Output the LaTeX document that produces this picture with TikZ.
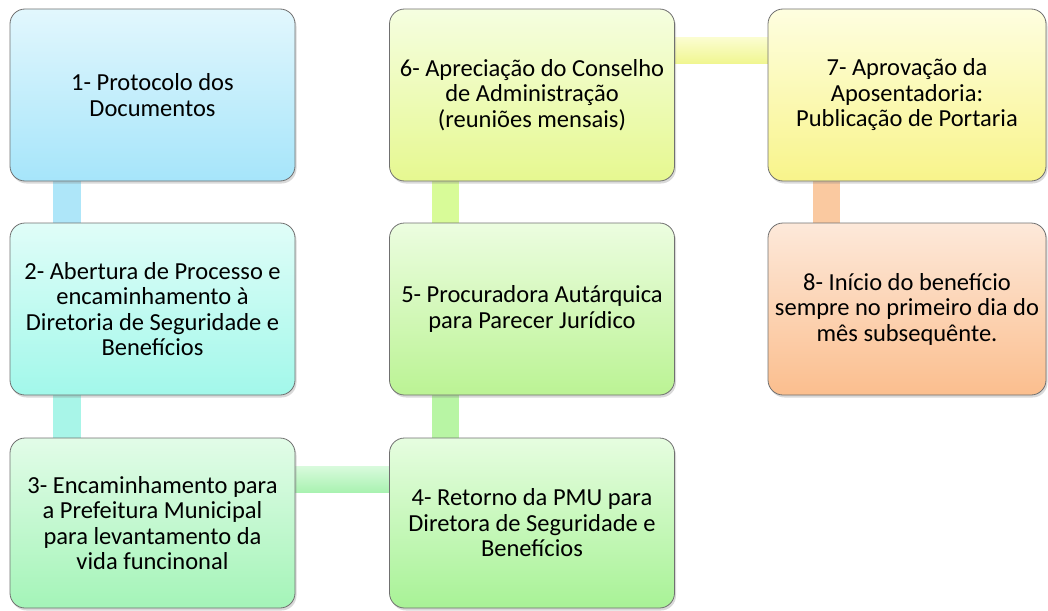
\documentclass[tikz,border=0pt]{standalone}
\usepackage{fontspec}
\setmainfont{Carlito}
\usetikzlibrary{shadows,calc,backgrounds}
\definecolor{boxline}{HTML}{707070}
\definecolor{bat}{HTML}{E2F7FD}\definecolor{bab}{HTML}{A6E5FA}
\definecolor{bbt}{HTML}{E0FDF8}\definecolor{bbb}{HTML}{A2F8EA}
\definecolor{bct}{HTML}{E2FCE8}\definecolor{bcb}{HTML}{A4F4B8}
\definecolor{bdt}{HTML}{E6FDE0}\definecolor{bdb}{HTML}{A8F296}
\definecolor{bet}{HTML}{ECFDE0}\definecolor{beb}{HTML}{BBF394}
\definecolor{bft}{HTML}{F5FEE0}\definecolor{bfb}{HTML}{E6F890}
\definecolor{bgt}{HTML}{FEFEE0}\definecolor{bgb}{HTML}{F8F48A}
\definecolor{bht}{HTML}{FDE9DA}\definecolor{bhb}{HTML}{FBBE8E}
\definecolor{cab}{HTML}{AEE6F9}
\definecolor{cbc}{HTML}{A8F5E8}
\definecolor{ccdt}{HTML}{D8FADC}\definecolor{ccdb}{HTML}{A8F2B0}
\definecolor{cde}{HTML}{B8F5A4}
\definecolor{cef}{HTML}{D8FB98}
\definecolor{cfgt}{HTML}{FBFDD0}\definecolor{cfgb}{HTML}{F0F690}
\definecolor{cgh}{HTML}{FAC9A0}
\begin{document}
\begin{tikzpicture}[x=1pt,y=-1pt,
  box/.style={draw=boxline, line width=0.8pt, rounded corners=15pt,
    minimum width=285pt, minimum height=172pt, align=center,
    font=\fontsize{24.5}{25.5}\selectfont, text=black, inner sep=4pt,
    drop shadow={opacity=0.3, shadow xshift=1.5pt, shadow yshift=-2.5pt}},
  narrow/.style={minimum width=278pt}]
\useasboundingbox (0,0) rectangle (1048,610);
\node[box, top color=bat, bottom color=bab] (b1) at (152.5,95) {1- Protocolo dos\\Documentos};
\node[box, top color=bbt, bottom color=bbb] (b2) at (152.5,309) {2- Abertura de Processo e\\encaminhamento à\\Diretoria de Seguridade e\\Benefícios};
\node[box, top color=bct, bottom color=bcb, minimum height=170pt] (b3) at (152.5,523) {3- Encaminhamento para\\a Prefeitura Municipal\\para levantamento da\\vida funcinonal};
\node[box, top color=bdt, bottom color=bdb, minimum height=170pt] (b4) at (532,523) {4- Retorno da PMU para\\Diretora de Seguridade e\\Benefícios};
\node[box, top color=bet, bottom color=beb] (b5) at (532,309) {5- Procuradora Autárquica\\para Parecer Jurídico};
\node[box, top color=bft, bottom color=bfb] (b6) at (532,95) {6- Apreciação do Conselho\\de Administração\\(reuniões mensais)};
\node[box, narrow, top color=bgt, bottom color=bgb] (b7) at (907,95) {7- Aprovação da\\Aposentadoria:\\Publicação de Portaria};
\node[box, narrow, top color=bht, bottom color=bhb] (b8) at (907,309) {8- Início do benefício\\sempre no primeiro dia do\\mês subsequênte.};
\begin{scope}[on background layer]
\fill[cab] ($(b1.south west)+(43,-3)$) rectangle ($(b2.north west)+(71,3)$);
\fill[cbc] ($(b2.south west)+(43,-3)$) rectangle ($(b3.north west)+(71,3)$);
\shade[top color=ccdt, bottom color=ccdb] ($(b3.north east)+(-3,29)$) rectangle ($(b4.north west)+(3,55)$);
\fill[cde] ($(b4.north west)+(43,3)$) rectangle ($(b5.south west)+(70,-3)$);
\fill[cef] ($(b5.north west)+(43,3)$) rectangle ($(b6.south west)+(70,-3)$);
\shade[top color=cfgt, bottom color=cfgb] ($(b6.north east)+(-3,29)$) rectangle ($(b7.north west)+(3,55)$);
\fill[cgh] ($(b7.south west)+(45,-3)$) rectangle ($(b8.north west)+(72,3)$);
\end{scope}
\end{tikzpicture}
\end{document}
